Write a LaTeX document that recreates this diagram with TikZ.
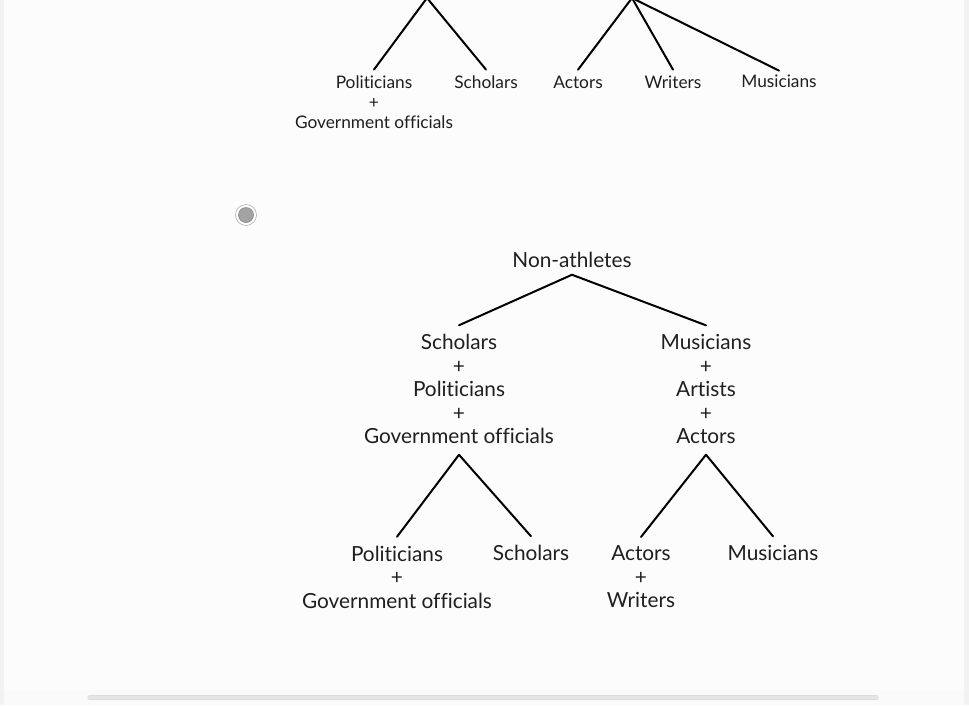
\documentclass[tikz,border=0pt]{standalone}
\usepackage{fontspec}
\setmainfont{Lato}[Ligatures=NoCommon]
\begin{document}
\begin{tikzpicture}[x=1pt,y=-1pt,
  big/.style={font=\fontsize{20.8}{23.5}\selectfont, text=black!88, inner sep=0pt, align=center, outer sep=9pt},
  small/.style={font=\fontsize{17.3}{20}\selectfont, text=black!88, inner sep=0pt, align=center, outer sep=6pt},
  branch/.style={draw=black, line width=2pt, line cap=round}]
\useasboundingbox (0,0) rectangle (969,705);
% background
\fill[white!99!black] (0,0) rectangle (969,705);
\fill[black!5] (0,0) rectangle (4,705);
\fill[black!5] (964,0) rectangle (969,705);
\fill[black!2] (4,690) rectangle (964,705);
\draw[black!14, fill=black!10, line width=0.6pt, rounded corners=1pt] (88,695.5) rectangle (878,699.5);
% radio button
\node[circle, draw=black!28, fill=white, line width=0.7pt, minimum size=21pt, inner sep=0pt] (radio) at (246,215) {};
\node[circle, draw=black!48, fill=black!36, line width=0.6pt, minimum size=15pt, inner sep=0pt] (dot) at (radio.center) {};
% top (cut-off) trees
\coordinate (tA) at (427,-2);
\coordinate (tB) at (632,-2);
\node[small] (tpol) at (374,102) {Politicians\\+\\Government officials};
\node[small] (tsch) at (486,82) {Scholars};
\node[small] (tact) at (578,82) {Actors};
\node[small] (twri) at (673,82) {Writers};
\node[small] (tmus) at (779,81) {Musicians};
\draw[branch] (tA) -- (tpol.north);
\draw[branch] (tA) -- (tsch.north);
\draw[branch] (tB) -- (tact.north);
\draw[branch] (tB) -- (twri.north);
\draw[branch] (tB) -- ([yshift=-2pt]tmus.north);
% bottom tree
\node[big] (root) at (572,260) {Non-athletes};
\node[big] (L) at (459,389) {Scholars\\+\\Politicians\\+\\Government officials};
\node[big] (R) at (706,389) {Musicians\\+\\Artists\\+\\Actors};
\node[big] (LL) at (397,577) {Politicians\\+\\Government officials};
\node[big] (LR) at (531,553) {Scholars};
\node[big] (RL) at (641,577) {Actors\\+\\Writers};
\node[big] (RR) at (773,553) {Musicians};
\draw[branch] ([yshift=2pt]root.south) -- (L.north);
\draw[branch] ([yshift=2pt]root.south) -- (R.north);
\draw[branch] ([yshift=-2pt]L.south) -- (LL.north);
\draw[branch] ([yshift=-2pt]L.south) -- (LR.north);
\draw[branch] ([yshift=-2pt]R.south) -- (RL.north);
\draw[branch] ([yshift=-2pt]R.south) -- (RR.north);
\end{tikzpicture}
\end{document}
